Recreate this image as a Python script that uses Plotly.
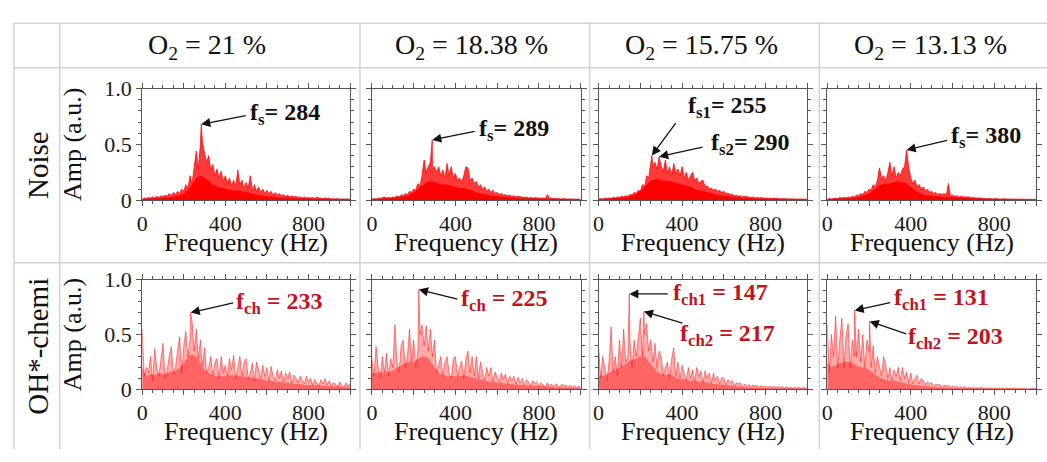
import plotly.graph_objects as go

# ---------------------------------------------------------------------------
# Data: amplitude spectra (a.u.) sampled every 10 Hz ("upper" envelope with the
# spikes) and every 20 Hz ("core", the dense band), plus the labelled peaks.
# ---------------------------------------------------------------------------
O2_LEVELS = ["21", "18.38", "15.75", "13.13"]
ROW_NAMES = ["Noise", "OH*-chemi"]

UPPER_FREQS = list(range(0, 1001, 10))
CORE_FREQS = list(range(0, 1001, 20))

# ---- Noise, O2 = 21 %
NOISE_21_UPPER = [
    0.01, 0.02, 0.015, 0.025, 0.02, 0.03, 0.02, 0.035, 0.025, 0.04,
    0.03, 0.045, 0.035, 0.06, 0.04, 0.07, 0.05, 0.08, 0.06, 0.1,
    0.08, 0.14, 0.1, 0.22, 0.15, 0.3, 0.44, 0.28, 0.5, 0.52,
    0.42, 0.34, 0.4, 0.27, 0.32, 0.22, 0.28, 0.2, 0.26, 0.17,
    0.22, 0.15, 0.2, 0.13, 0.18, 0.12, 0.27, 0.14, 0.18, 0.11,
    0.16, 0.11, 0.22, 0.09, 0.14, 0.08, 0.12, 0.07, 0.1, 0.065,
    0.09, 0.055, 0.08, 0.05, 0.07, 0.045, 0.06, 0.04, 0.05, 0.035,
    0.045, 0.03, 0.04, 0.03, 0.035, 0.025, 0.03, 0.02, 0.03, 0.02,
    0.025, 0.02, 0.025, 0.015, 0.03, 0.02, 0.02, 0.015, 0.02, 0.015,
    0.02, 0.01, 0.015, 0.01, 0.015, 0.01, 0.012, 0.01, 0.012, 0.01, 0.01,
]
NOISE_21_CORE = [
    0.008, 0.01, 0.012, 0.015, 0.018, 0.02, 0.025, 0.03, 0.035, 0.045,
    0.06, 0.09, 0.14, 0.2, 0.22, 0.2, 0.17, 0.14, 0.12, 0.11,
    0.1, 0.09, 0.085, 0.09, 0.08, 0.07, 0.06, 0.05, 0.045, 0.04,
    0.035, 0.03, 0.03, 0.025, 0.022, 0.02, 0.018, 0.016, 0.015, 0.014,
    0.013, 0.012, 0.011, 0.01, 0.01, 0.009, 0.008, 0.008, 0.007, 0.007, 0.007,
]
NOISE_21_PEAKS = [("s", 284, 0.68)]

# ---- Noise, O2 = 18.38 %
NOISE_1838_UPPER = [
    0.01, 0.015, 0.01, 0.02, 0.015, 0.02, 0.03, 0.02, 0.025, 0.02,
    0.03, 0.025, 0.04, 0.03, 0.05, 0.04, 0.06, 0.05, 0.08, 0.07,
    0.1, 0.09, 0.15, 0.12, 0.22, 0.36, 0.25, 0.3, 0.34, 0.28,
    0.3, 0.25, 0.3, 0.22, 0.27, 0.2, 0.33, 0.22, 0.3, 0.2,
    0.24, 0.18, 0.2, 0.16, 0.22, 0.3, 0.29, 0.18, 0.2, 0.15,
    0.17, 0.12, 0.14, 0.1, 0.12, 0.08, 0.1, 0.07, 0.09, 0.06,
    0.07, 0.05, 0.06, 0.045, 0.05, 0.04, 0.045, 0.035, 0.04, 0.03,
    0.035, 0.03, 0.03, 0.025, 0.03, 0.02, 0.025, 0.02, 0.022, 0.018,
    0.02, 0.018, 0.02, 0.015, 0.05, 0.02, 0.018, 0.015, 0.018, 0.012,
    0.015, 0.012, 0.015, 0.01, 0.012, 0.01, 0.012, 0.01, 0.01, 0.01, 0.008,
]
NOISE_1838_CORE = [
    0.008, 0.01, 0.012, 0.014, 0.016, 0.02, 0.025, 0.03, 0.04, 0.05,
    0.07, 0.1, 0.13, 0.16, 0.17, 0.16, 0.15, 0.14, 0.14, 0.13,
    0.12, 0.11, 0.11, 0.1, 0.09, 0.07, 0.06, 0.05, 0.045, 0.04,
    0.035, 0.03, 0.025, 0.022, 0.02, 0.018, 0.016, 0.015, 0.013, 0.012,
    0.011, 0.01, 0.01, 0.01, 0.009, 0.008, 0.008, 0.007, 0.007, 0.006, 0.006,
]
NOISE_1838_PEAKS = [("s", 289, 0.54)]

# ---- Noise, O2 = 15.75 %
NOISE_1575_UPPER = [
    0.01, 0.015, 0.01, 0.02, 0.015, 0.02, 0.015, 0.025, 0.02, 0.03,
    0.025, 0.035, 0.03, 0.04, 0.035, 0.05, 0.05, 0.07, 0.06, 0.09,
    0.08, 0.14, 0.12, 0.22, 0.2, 0.32, 0.3, 0.34, 0.28, 0.33,
    0.3, 0.26, 0.36, 0.24, 0.3, 0.22, 0.33, 0.24, 0.28, 0.22,
    0.3, 0.2, 0.25, 0.18, 0.22, 0.25, 0.18, 0.2, 0.15, 0.17,
    0.18, 0.12, 0.13, 0.1, 0.11, 0.09, 0.1, 0.08, 0.09, 0.07,
    0.08, 0.06, 0.065, 0.05, 0.055, 0.04, 0.045, 0.035, 0.04, 0.03,
    0.035, 0.03, 0.03, 0.025, 0.03, 0.02, 0.025, 0.02, 0.025, 0.018,
    0.02, 0.018, 0.02, 0.015, 0.02, 0.015, 0.018, 0.012, 0.015, 0.012,
    0.015, 0.012, 0.013, 0.01, 0.012, 0.01, 0.012, 0.01, 0.01, 0.01, 0.008,
]
NOISE_1575_CORE = [
    0.008, 0.01, 0.012, 0.014, 0.016, 0.02, 0.024, 0.03, 0.04, 0.055,
    0.08, 0.12, 0.16, 0.18, 0.19, 0.18, 0.17, 0.17, 0.16, 0.15,
    0.14, 0.13, 0.12, 0.1, 0.09, 0.08, 0.07, 0.06, 0.05, 0.045,
    0.04, 0.035, 0.03, 0.026, 0.022, 0.02, 0.018, 0.016, 0.014, 0.013,
    0.012, 0.011, 0.01, 0.01, 0.009, 0.009, 0.008, 0.008, 0.007, 0.007, 0.006,
]
NOISE_1575_PEAKS = [("s1", 255, 0.40), ("s2", 290, 0.39)]

# ---- Noise, O2 = 13.13 %
NOISE_1313_UPPER = [
    0.01, 0.015, 0.01, 0.015, 0.02, 0.015, 0.025, 0.02, 0.025, 0.02,
    0.03, 0.025, 0.035, 0.03, 0.045, 0.04, 0.06, 0.05, 0.08, 0.07,
    0.1, 0.09, 0.14, 0.12, 0.18, 0.29, 0.2, 0.22, 0.17, 0.25,
    0.34, 0.22, 0.3, 0.2, 0.25, 0.22, 0.28, 0.3, 0.26, 0.3,
    0.2, 0.15, 0.18, 0.12, 0.14, 0.1, 0.12, 0.08, 0.1, 0.07,
    0.08, 0.06, 0.07, 0.05, 0.06, 0.05, 0.06, 0.045, 0.15, 0.04,
    0.045, 0.035, 0.04, 0.03, 0.035, 0.03, 0.03, 0.025, 0.03, 0.022,
    0.025, 0.02, 0.022, 0.018, 0.02, 0.015, 0.018, 0.015, 0.016, 0.012,
    0.015, 0.012, 0.014, 0.01, 0.013, 0.01, 0.012, 0.01, 0.011, 0.009,
    0.012, 0.009, 0.01, 0.008, 0.01, 0.008, 0.009, 0.007, 0.008, 0.007, 0.007,
]
NOISE_1313_CORE = [
    0.008, 0.009, 0.01, 0.012, 0.014, 0.017, 0.02, 0.025, 0.035, 0.045,
    0.06, 0.09, 0.12, 0.14, 0.15, 0.15, 0.16, 0.17, 0.16, 0.15,
    0.12, 0.09, 0.07, 0.05, 0.045, 0.04, 0.035, 0.03, 0.03, 0.028,
    0.025, 0.022, 0.02, 0.018, 0.015, 0.014, 0.012, 0.011, 0.01, 0.01,
    0.009, 0.009, 0.008, 0.008, 0.007, 0.007, 0.007, 0.006, 0.006, 0.006, 0.006,
]
NOISE_1313_PEAKS = [("s", 380, 0.45)]

# ---- OH*-chemiluminescence, O2 = 21 %
OH_21_UPPER = [
    0.55, 0.12, 0.2, 0.15, 0.3, 0.08, 0.37, 0.2, 0.12, 0.25,
    0.42, 0.1, 0.18, 0.3, 0.39, 0.14, 0.2, 0.35, 0.48, 0.15,
    0.4, 0.53, 0.3, 0.45, 0.62, 0.35, 0.55, 0.28, 0.45, 0.22,
    0.38, 0.15, 0.2, 0.3, 0.12, 0.25, 0.28, 0.1, 0.3, 0.15,
    0.22, 0.12, 0.28, 0.18, 0.31, 0.1, 0.2, 0.3, 0.12, 0.25,
    0.28, 0.1, 0.15, 0.24, 0.08, 0.25, 0.18, 0.1, 0.22, 0.12,
    0.2, 0.07, 0.21, 0.12, 0.08, 0.18, 0.1, 0.17, 0.06, 0.15,
    0.1, 0.16, 0.05, 0.13, 0.1, 0.06, 0.12, 0.08, 0.05, 0.12,
    0.07, 0.1, 0.04, 0.09, 0.06, 0.03, 0.09, 0.05, 0.1, 0.04,
    0.08, 0.03, 0.06, 0.05, 0.02, 0.07, 0.04, 0.02, 0.06, 0.03, 0.05,
]
OH_21_CORE = [
    0.2, 0.12, 0.14, 0.13, 0.15, 0.14, 0.15, 0.16, 0.17, 0.2,
    0.24, 0.3, 0.32, 0.3, 0.24, 0.18, 0.15, 0.13, 0.12, 0.12,
    0.12, 0.13, 0.13, 0.12, 0.12, 0.11, 0.11, 0.1, 0.1, 0.09,
    0.08, 0.08, 0.07, 0.07, 0.06, 0.06, 0.05, 0.05, 0.05, 0.04,
    0.04, 0.04, 0.035, 0.035, 0.03, 0.03, 0.03, 0.025, 0.025, 0.02, 0.02,
]
OH_21_PEAKS = [("ch", 233, 0.70)]

# ---- OH*-chemiluminescence, O2 = 18.38 %
OH_1838_UPPER = [
    0.28, 0.12, 0.39, 0.2, 0.1, 0.3, 0.15, 0.33, 0.12, 0.28,
    0.2, 0.59, 0.25, 0.15, 0.4, 0.45, 0.2, 0.3, 0.55, 0.25,
    0.45, 0.2, 0.35, 0.5, 0.59, 0.4, 0.58, 0.35, 0.55, 0.3,
    0.45, 0.15, 0.22, 0.3, 0.12, 0.25, 0.3, 0.15, 0.1, 0.28,
    0.3, 0.12, 0.2, 0.26, 0.1, 0.28, 0.35, 0.15, 0.3, 0.12,
    0.3, 0.1, 0.25, 0.15, 0.08, 0.2, 0.12, 0.2, 0.07, 0.16,
    0.12, 0.07, 0.15, 0.09, 0.14, 0.05, 0.12, 0.08, 0.12, 0.05,
    0.11, 0.06, 0.1, 0.04, 0.09, 0.07, 0.03, 0.08, 0.05, 0.07,
    0.03, 0.06, 0.04, 0.02, 0.06, 0.03, 0.05, 0.02, 0.05, 0.04,
    0.02, 0.05, 0.03, 0.04, 0.015, 0.04, 0.02, 0.035, 0.015, 0.03, 0.02,
]
OH_1838_CORE = [
    0.15, 0.15, 0.16, 0.15, 0.16, 0.17, 0.2, 0.22, 0.24, 0.25,
    0.25, 0.28, 0.3, 0.3, 0.26, 0.2, 0.15, 0.13, 0.12, 0.12,
    0.12, 0.12, 0.13, 0.12, 0.11, 0.1, 0.09, 0.08, 0.07, 0.07,
    0.06, 0.06, 0.05, 0.05, 0.045, 0.04, 0.04, 0.035, 0.035, 0.03,
    0.03, 0.03, 0.025, 0.025, 0.02, 0.02, 0.02, 0.02, 0.018, 0.015, 0.015,
]
OH_1838_PEAKS = [("ch", 225, 0.91)]

# ---- OH*-chemiluminescence, O2 = 15.75 %
OH_1575_UPPER = [
    0.39, 0.1, 0.3, 0.18, 0.08, 0.25, 0.57, 0.15, 0.3, 0.12,
    0.45, 0.2, 0.55, 0.25, 0.3, 0.45, 0.2, 0.45, 0.3, 0.5,
    0.65, 0.3, 0.5, 0.6, 0.35, 0.45, 0.25, 0.42, 0.2, 0.35,
    0.3, 0.12, 0.2, 0.25, 0.1, 0.28, 0.38, 0.12, 0.25, 0.1,
    0.22, 0.15, 0.08, 0.2, 0.1, 0.18, 0.07, 0.2, 0.12, 0.17,
    0.06, 0.17, 0.1, 0.15, 0.05, 0.15, 0.08, 0.12, 0.05, 0.11,
    0.1, 0.04, 0.09, 0.06, 0.08, 0.03, 0.06, 0.05, 0.06, 0.025,
    0.05, 0.03, 0.045, 0.02, 0.04, 0.03, 0.035, 0.015, 0.035, 0.02,
    0.03, 0.015, 0.03, 0.02, 0.03, 0.012, 0.025, 0.018, 0.025, 0.01,
    0.025, 0.015, 0.02, 0.01, 0.02, 0.012, 0.02, 0.008, 0.018, 0.01, 0.015,
]
OH_1575_CORE = [
    0.12, 0.12, 0.14, 0.16, 0.18, 0.2, 0.22, 0.25, 0.27, 0.28,
    0.3, 0.3, 0.25, 0.2, 0.16, 0.14, 0.13, 0.14, 0.12, 0.1,
    0.09, 0.09, 0.08, 0.08, 0.07, 0.07, 0.06, 0.05, 0.05, 0.045,
    0.04, 0.035, 0.03, 0.025, 0.022, 0.02, 0.018, 0.016, 0.015, 0.014,
    0.013, 0.012, 0.011, 0.01, 0.01, 0.009, 0.009, 0.008, 0.008, 0.007, 0.007,
]
OH_1575_PEAKS = [("ch1", 147, 0.87), ("ch2", 217, 0.71)]

# ---- OH*-chemiluminescence, O2 = 13.13 %
OH_1313_UPPER = [
    0.6, 0.15, 0.5, 0.3, 0.67, 0.2, 0.45, 0.65, 0.2, 0.5,
    0.6, 0.2, 0.45, 0.3, 0.3, 0.55, 0.25, 0.5, 0.2, 0.45,
    0.35, 0.2, 0.4, 0.15, 0.3, 0.22, 0.12, 0.3, 0.22, 0.1,
    0.2, 0.08, 0.18, 0.12, 0.2, 0.08, 0.2, 0.1, 0.16, 0.06,
    0.15, 0.05, 0.1, 0.13, 0.05, 0.1, 0.08, 0.04, 0.07, 0.05,
    0.06, 0.03, 0.05, 0.04, 0.045, 0.02, 0.04, 0.03, 0.035, 0.018,
    0.03, 0.02, 0.03, 0.012, 0.025, 0.018, 0.025, 0.01, 0.02, 0.012,
    0.02, 0.01, 0.018, 0.012, 0.018, 0.008, 0.015, 0.01, 0.015, 0.007,
    0.014, 0.009, 0.013, 0.006, 0.012, 0.008, 0.012, 0.006, 0.011, 0.007,
    0.01, 0.005, 0.01, 0.007, 0.01, 0.005, 0.009, 0.006, 0.009, 0.005, 0.008,
]
OH_1313_CORE = [
    0.25, 0.2, 0.22, 0.24, 0.25, 0.25, 0.24, 0.22, 0.2, 0.2,
    0.18, 0.15, 0.12, 0.1, 0.09, 0.08, 0.08, 0.07, 0.06, 0.05,
    0.045, 0.04, 0.035, 0.03, 0.025, 0.022, 0.02, 0.018, 0.016, 0.014,
    0.012, 0.011, 0.01, 0.01, 0.009, 0.008, 0.008, 0.007, 0.007, 0.006,
    0.006, 0.006, 0.005, 0.005, 0.005, 0.005, 0.004, 0.004, 0.004, 0.004, 0.004,
]
OH_1313_PEAKS = [("ch1", 131, 0.72), ("ch2", 203, 0.62)]

PANELS = [
    [(NOISE_21_UPPER, NOISE_21_CORE, NOISE_21_PEAKS),
     (NOISE_1838_UPPER, NOISE_1838_CORE, NOISE_1838_PEAKS),
     (NOISE_1575_UPPER, NOISE_1575_CORE, NOISE_1575_PEAKS),
     (NOISE_1313_UPPER, NOISE_1313_CORE, NOISE_1313_PEAKS)],
    [(OH_21_UPPER, OH_21_CORE, OH_21_PEAKS),
     (OH_1838_UPPER, OH_1838_CORE, OH_1838_PEAKS),
     (OH_1575_UPPER, OH_1575_CORE, OH_1575_PEAKS),
     (OH_1313_UPPER, OH_1313_CORE, OH_1313_PEAKS)],
]

# Label placement per peak: arrow tail offset from the peak (px) and label centre (px)
LABEL_LAYOUT = [
    [[((46, -9), (281, 108))],
     [((44, -9), (511, 125))],
     [((25, -34), (726, 100)), ((45, -10), (749, 140))],
     [((42, -10), (986, 132))]],
    [[((44, -10), (275, 308))],
     [((40, 10), (501, 305))],
     [((40, 0), (719, 298)), ((40, 12), (726, 342))],
     [((37, -8), (941, 303)), ((38, 13), (955, 345))]],
]

# ---------------------------------------------------------------------------
W, H = 1047, 462
SERIF = "Liberation Serif"
AXIS_GREY = "#555555"
GRID_GREY = "#d2d2d2"
LABEL_RED = "#c0141e"

X_DOM = [(137, 346), (368, 578), (596, 806), (826, 1036)]
Y_DOM = [(81, 199), (283, 399)]


def fx(x):
    return x / W


def fy(y):
    return 1 - y / H


def merged(upper, peaks):
    assert len(upper) == len(UPPER_FREQS)
    pts = dict(zip(UPPER_FREQS, upper))
    for _, f, a in peaks:
        pts[f] = a
    fs = sorted(pts)
    return fs, [pts[f] for f in fs]


fig = go.Figure()
annotations = []
shapes = []

ROW_STYLE = [
    dict(up_fill="rgba(255,0,0,0.78)", up_line="rgba(255,0,0,0.9)",
         up_width=0.8, core_fill="rgba(255,0,0,1.0)"),
    dict(up_fill="rgba(255,30,30,0.38)", up_line="rgba(255,0,0,0.65)",
         up_width=0.7, core_fill="rgba(255,0,0,0.40)"),
]

for r in range(2):
    for c in range(4):
        k = r * 4 + c + 1
        xa = "x" if k == 1 else f"x{k}"
        ya = "y" if k == 1 else f"y{k}"
        upper, core, peaks = PANELS[r][c]
        assert len(core) == len(CORE_FREQS)
        st = ROW_STYLE[r]
        fs, amps = merged(upper, peaks)
        fig.add_trace(go.Scatter(
            x=fs, y=amps, mode="lines", fill="tozeroy",
            fillcolor=st["up_fill"],
            line=dict(color=st["up_line"], width=st["up_width"]),
            xaxis=xa, yaxis=ya, hoverinfo="skip"))
        fig.add_trace(go.Scatter(
            x=CORE_FREQS, y=core, mode="lines", fill="tozeroy",
            fillcolor=st["core_fill"], line=dict(width=0),
            xaxis=xa, yaxis=ya, hoverinfo="skip"))

        x0, x1 = X_DOM[c]
        y0, y1 = Y_DOM[r]
        xkey = "xaxis" if k == 1 else f"xaxis{k}"
        ykey = "yaxis" if k == 1 else f"yaxis{k}"
        fig.layout[xkey] = dict(
            domain=[fx(x0), fx(x1)], anchor=ya, range=[0, 1000],
            tickmode="array", tickvals=[0, 200, 400, 600, 800, 1000],
            ticktext=["0", "", "400", "", "800", ""],
            ticks="outside", ticklen=5, tickwidth=1, tickcolor=AXIS_GREY,
            ticklabelstandoff=-2,
            minor=dict(dtick=50, tick0=0, ticks="outside", ticklen=3,
                       tickcolor=AXIS_GREY, showgrid=False),
            showline=True, linecolor=AXIS_GREY, linewidth=1, mirror="ticks",
            showgrid=False, zeroline=False,
            tickfont=dict(family=SERIF, size=22, color="#1a1a1a"),
            fixedrange=True)
        fig.layout[ykey] = dict(
            domain=[fy(y1), fy(y0)], anchor=xa, range=[0, 1],
            tickmode="array", tickvals=[0, 0.5, 1.0],
            ticktext=["0", "0.5", "1.0"], showticklabels=(c == 0),
            ticks="outside", ticklen=5, tickwidth=1, tickcolor=AXIS_GREY,
            minor=dict(dtick=0.1, tick0=0, ticks="outside", ticklen=3,
                       tickcolor=AXIS_GREY, showgrid=False),
            showline=True, linecolor=AXIS_GREY, linewidth=1, mirror="ticks",
            showgrid=False, zeroline=False,
            tickfont=dict(family=SERIF, size=22, color="#1a1a1a"),
            fixedrange=True)

        # axis titles
        annotations.append(dict(
            text="Frequency (Hz)", xref="paper", yref="paper",
            x=fx((x0 + x1) / 2), y=fy(y1 + 45), xanchor="center", yanchor="middle",
            showarrow=False, font=dict(family=SERIF, size=26, color="#111")))
        if c == 0:
            annotations.append(dict(
                text="Amp (a.u.)", xref="paper", yref="paper", textangle=-90,
                x=fx(67), y=fy((y0 + y1) / 2), xanchor="center", yanchor="middle",
                showarrow=False, font=dict(family=SERIF, size=26, color="#111")))

        # peak labels and arrows
        for (sym, f, a), ((ax, ay), (tx, ty)) in zip(peaks, LABEL_LAYOUT[r][c]):
            if r == 0:
                label = f"<b>f<sub>{sym}</sub>= {f}</b>"
                col = "#111111"
            else:
                label = f"<b>f<sub>{sym}</sub> = {f}</b>"
                col = LABEL_RED
            annotations.append(dict(
                text="", x=f, y=a, xref=xa, yref=ya, ax=ax, ay=ay,
                showarrow=True, arrowhead=2, arrowsize=1.4, arrowwidth=1.3,
                arrowcolor="#111111", standoff=0, startstandoff=0))
            annotations.append(dict(
                text=label, xref="paper", yref="paper", x=fx(tx), y=fy(ty),
                xanchor="center", yanchor="middle", showarrow=False,
                font=dict(family=SERIF, size=24, color=col)))

# column headers
COL_BOUNDS = [(54, 356), (356, 587), (587, 818), (818, 1047)]
for (a, b), lvl in zip(COL_BOUNDS, O2_LEVELS):
    annotations.append(dict(
        text=f"O<sub>2</sub> = {lvl} %", xref="paper", yref="paper",
        x=fx((a + b) / 2 - 3), y=fy(37), xanchor="center", yanchor="middle",
        showarrow=False, font=dict(family=SERIF, size=28, color="#111")))

# row headers
for name, yc in zip(ROW_NAMES, [162, 353]):
    annotations.append(dict(
        text=name, xref="paper", yref="paper", textangle=-90,
        x=fx(32), y=fy(yc), xanchor="center", yanchor="middle",
        showarrow=False, font=dict(family=SERIF, size=29, color="#111")))

# table frame
for yl in [12, 59, 265]:
    shapes.append(dict(type="line", xref="paper", yref="paper",
                       x0=fx(8), x1=1, y0=fy(yl), y1=fy(yl),
                       line=dict(color=GRID_GREY, width=1.5)))
for xl in [8, 54, 356, 587, 818]:
    shapes.append(dict(type="line", xref="paper", yref="paper",
                       x0=fx(xl), x1=fx(xl), y0=fy(12), y1=0,
                       line=dict(color=GRID_GREY, width=1.5)))

fig.update_layout(
    width=W, height=H, margin=dict(l=0, r=0, t=0, b=0),
    paper_bgcolor="white", plot_bgcolor="white", showlegend=False,
    annotations=annotations, shapes=shapes,
)

fig.write_html("out.html")
